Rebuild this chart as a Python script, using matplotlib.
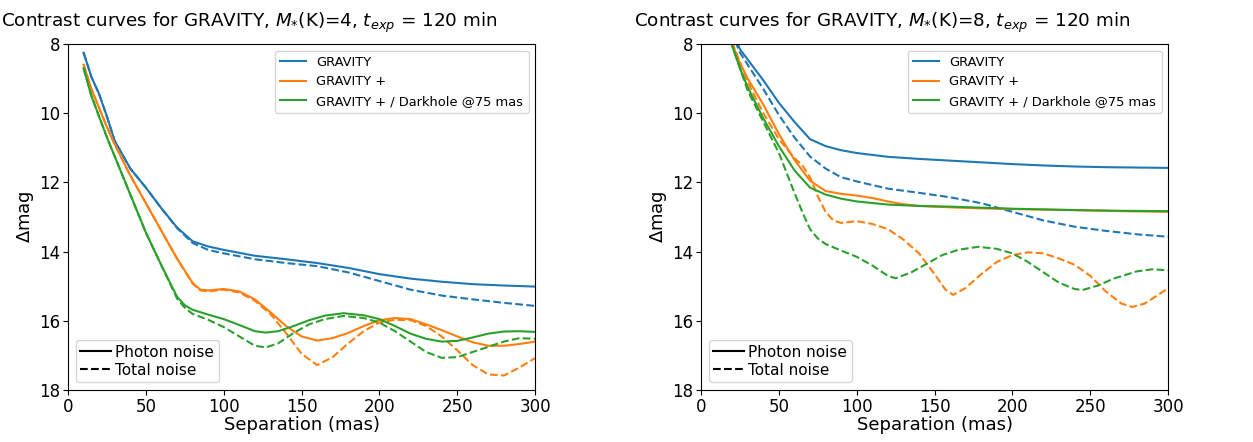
import matplotlib
matplotlib.use("Agg")
import matplotlib.pyplot as plt
from matplotlib.lines import Line2D

# M*(K)=4 panel
l_blue_x = [10, 15, 20, 25, 30, 40, 50, 60, 70, 80, 90, 100, 120, 140, 160, 180, 200, 220, 240, 260, 280, 300]
l_blue_phot = [8.25, 8.95, 9.45, 10.1, 10.8, 11.6, 12.15, 12.75, 13.3, 13.7, 13.85, 13.95, 14.12, 14.22, 14.33, 14.47,
               14.65, 14.78, 14.87, 14.94, 14.98, 15.01]
l_blue_tot = [8.25, 8.95, 9.45, 10.1, 10.8, 11.6, 12.15, 12.75, 13.32, 13.75, 13.95, 14.05, 14.22, 14.33, 14.42, 14.6,
              14.85, 15.1, 15.27, 15.38, 15.48, 15.57]

l_orange_x = [10, 15, 20, 25, 30, 40, 50, 60, 70, 80, 85, 90, 100, 110, 120, 130, 140, 150, 160, 170, 180, 190, 200,
              210, 220, 230, 240, 250, 260, 270, 280, 290, 300]
l_orange_phot = [8.6, 9.3, 9.85, 10.4, 10.9, 11.8, 12.6, 13.4, 14.2, 14.9, 15.1, 15.12, 15.08, 15.15, 15.38, 15.75,
                 16.15, 16.45, 16.57, 16.5, 16.35, 16.15, 15.98, 15.92, 15.95, 16.1, 16.27, 16.45, 16.62, 16.72, 16.72,
                 16.67, 16.6]
l_orange_tot = [8.6, 9.3, 9.85, 10.4, 10.9, 11.8, 12.6, 13.4, 14.2, 14.92, 15.12, 15.15, 15.1, 15.18, 15.42, 15.8,
                16.35, 16.95, 17.28, 17.05, 16.65, 16.3, 16.05, 15.97, 15.98, 16.15, 16.45, 16.85, 17.28, 17.55, 17.58,
                17.35, 17.08]

l_green_x = [10, 15, 20, 25, 30, 40, 50, 60, 70, 75, 80, 90, 100, 110, 120, 127, 135, 145, 155, 165, 177, 190, 200,
             210, 220, 230, 240, 250, 260, 270, 280, 290, 300]
l_green_phot = [8.7, 9.5, 10.1, 10.7, 11.25, 12.35, 13.45, 14.4, 15.3, 15.55, 15.68, 15.82, 15.95, 16.12, 16.3, 16.34,
                16.3, 16.15, 15.98, 15.85, 15.78, 15.84, 15.95, 16.15, 16.37, 16.52, 16.6, 16.58, 16.48, 16.37, 16.31,
                16.3, 16.32]
l_green_tot = [8.7, 9.5, 10.1, 10.7, 11.25, 12.35, 13.45, 14.4, 15.35, 15.62, 15.8, 15.97, 16.18, 16.45, 16.72, 16.77,
               16.65, 16.35, 16.1, 15.95, 15.86, 15.92, 16.05, 16.3, 16.6, 16.9, 17.07, 17.05, 16.9, 16.75, 16.6,
               16.5, 16.52]

# M*(K)=8 panel
r_blue_x = [10, 15, 20, 25, 30, 40, 50, 60, 70, 80, 90, 100, 120, 140, 160, 180, 200, 220, 240, 260, 280, 300]
r_blue_phot = [6.0, 6.9, 7.6, 8.15, 8.45, 9.05, 9.7, 10.25, 10.75, 10.95, 11.07, 11.15, 11.26, 11.32, 11.37, 11.42,
               11.47, 11.51, 11.54, 11.56, 11.57, 11.58]
r_blue_tot = [6.0, 6.95, 7.7, 8.25, 8.6, 9.3, 10.05, 10.7, 11.25, 11.6, 11.85, 11.97, 12.18, 12.3, 12.43, 12.6,
              12.85, 13.1, 13.28, 13.4, 13.5, 13.57]

r_orange_x = [10, 15, 20, 25, 30, 40, 50, 60, 70, 80, 90, 100, 110, 120, 130, 140, 160, 180, 200, 240, 270, 300]
r_orange_phot = [6.2, 7.1, 8.0, 8.55, 9.0, 9.75, 10.6, 11.35, 11.95, 12.25, 12.33, 12.38, 12.45, 12.55, 12.63, 12.68,
                 12.72, 12.75, 12.77, 12.8, 12.83, 12.85]
r_orange_tot_x = [10, 15, 20, 30, 40, 50, 60, 65, 70, 75, 80, 85, 90, 100, 110, 120, 130, 140, 150, 157, 162, 170, 180,
                  190, 200, 210, 220, 230, 240, 250, 260, 270, 277, 285, 292, 300]
r_orange_tot = [6.2, 7.1, 7.95, 9.1, 10.0, 10.75, 11.3, 11.5, 11.85, 12.4, 12.85, 13.1, 13.17, 13.12, 13.2, 13.35,
                13.65, 14.05, 14.65, 15.1, 15.25, 15.05, 14.65, 14.3, 14.1, 14.02, 14.05, 14.2, 14.38, 14.7, 15.15,
                15.5, 15.6, 15.5, 15.3, 15.06]

r_green_x = [10, 15, 20, 25, 30, 40, 50, 60, 70, 80, 90, 100, 120, 140, 160, 200, 240, 270, 300]
r_green_phot = [6.3, 7.2, 8.05, 8.7, 9.25, 10.15, 10.95, 11.65, 12.15, 12.35, 12.47, 12.55, 12.64, 12.68, 12.7,
                12.76, 12.8, 12.82, 12.83]
r_green_tot_x = [10, 15, 20, 30, 40, 50, 60, 65, 70, 75, 80, 90, 100, 110, 120, 125, 135, 145, 155, 165, 178, 190,
                 200, 210, 220, 230, 240, 245, 255, 265, 280, 290, 300]
r_green_tot = [6.3, 7.2, 8.05, 9.35, 10.25, 11.15, 12.3, 12.85, 13.35, 13.62, 13.78, 13.97, 14.15, 14.4, 14.7, 14.77,
               14.6, 14.35, 14.1, 13.95, 13.86, 13.92, 14.05, 14.3, 14.6, 14.9, 15.08, 15.11, 14.98, 14.78, 14.57,
               14.51, 14.54]

labels = ["GRAVITY", "GRAVITY +", "GRAVITY + / Darkhole @75 mas"]
colors = ["tab:blue", "tab:orange", "tab:green"]

panels = [
    ("4", [(l_blue_x, l_blue_phot, l_blue_x, l_blue_tot),
           (l_orange_x, l_orange_phot, l_orange_x, l_orange_tot),
           (l_green_x, l_green_phot, l_green_x, l_green_tot)]),
    ("8", [(r_blue_x, r_blue_phot, r_blue_x, r_blue_tot),
           (r_orange_x, r_orange_phot, r_orange_tot_x, r_orange_tot),
           (r_green_x, r_green_phot, r_green_tot_x, r_green_tot)]),
]

fig = plt.figure(figsize=(12.53, 4.42), dpi=100)
lefts = [0.0543, 0.5595]

for left, (mag, curves) in zip(lefts, panels):
    ax = fig.add_axes([left, 0.1176, 0.3727, 0.7828])
    for (xp, yp, xt, yt), lab, c in zip(curves, labels, colors):
        ax.plot(xp, yp, color=c, label=lab)
        ax.plot(xt, yt, color=c, linestyle="--")
    ax.set_xlim(0, 300)
    ax.set_ylim(18, 8)
    ax.set_xticks([0, 50, 100, 150, 200, 250, 300])
    ax.set_yticks([8, 10, 12, 14, 16, 18])
    ax.tick_params(labelsize=12, pad=2)
    ax.set_xlabel("Separation (mas)", fontsize=13, labelpad=0)
    ax.set_ylabel(r"$\Delta$mag", fontsize=13, labelpad=2)
    ax.set_title(r"Contrast curves for GRAVITY, $M_{*}$(K)=" + mag + r", $t_{exp}$ = 120 min",
                 fontsize=13.2, x=0.387, pad=12)

    leg1 = ax.legend(loc="upper right", fontsize=9.4)
    ax.add_artist(leg1)
    noise_handles = [Line2D([], [], color="black", linestyle="-"),
                     Line2D([], [], color="black", linestyle="--")]
    ax.legend(noise_handles, ["Photon noise", "Total noise"], loc="lower left", fontsize=11,
              handletextpad=0.3, borderpad=0.3, labelspacing=0.2)

fig.savefig("out.png", dpi=100)
